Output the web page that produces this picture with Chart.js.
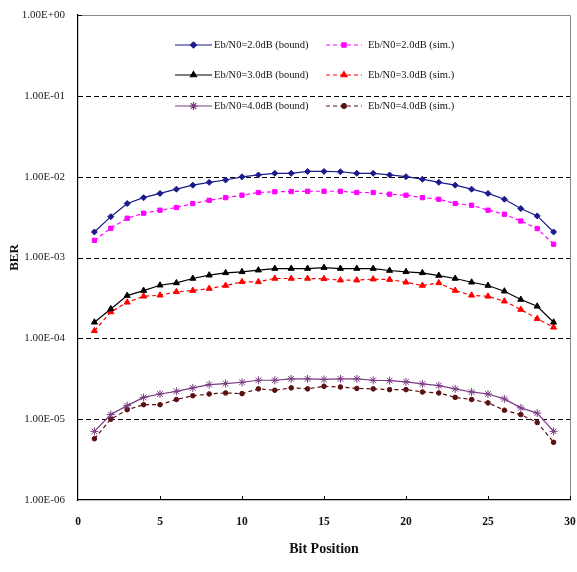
<!DOCTYPE html>
<html lang="en">
<head>
  <meta charset="UTF-8">
  <title>BER vs Bit Position</title>
  <script src="https://cdn.jsdelivr.net/npm/chart.js"></script>
  <style>
    body { margin: 0; background: #fff; }
    #wrap { width: 577px; height: 572px; }
  </style>
</head>
<body>
<div id="wrap"><canvas id="berChart" width="577" height="572"></canvas></div>
<script>
  // bit positions 1..29
  const bitPositions = [1,2,3,4,5,6,7,8,9,10,11,12,13,14,15,16,17,18,19,20,21,22,23,24,25,26,27,28,29];

  const bound20 = [2.07e-3,3.2e-3,4.65e-3,5.5e-3,6.2e-3,7.0e-3,7.85e-3,8.5e-3,9.1e-3,9.95e-3,1.05e-2,1.10e-2,1.10e-2,1.16e-2,1.16e-2,
                   1.15e-2,1.10e-2,1.10e-2,1.05e-2,1.0e-2,9.3e-3,8.5e-3,7.85e-3,7.0e-3,6.2e-3,5.26e-3,4.03e-3,3.27e-3,2.07e-3];
  const sim20   = [1.63e-3,2.3e-3,3.06e-3,3.53e-3,3.85e-3,4.15e-3,4.65e-3,5.1e-3,5.5e-3,5.9e-3,6.37e-3,6.5e-3,6.55e-3,6.6e-3,6.6e-3,
                   6.6e-3,6.37e-3,6.37e-3,6.07e-3,5.9e-3,5.5e-3,5.26e-3,4.65e-3,4.43e-3,3.85e-3,3.43e-3,2.83e-3,2.28e-3,1.46e-3];
  const bound30 = [1.58e-4,2.31e-4,3.38e-4,3.9e-4,4.54e-4,4.85e-4,5.5e-4,6.04e-4,6.46e-4,6.65e-4,6.97e-4,7.3e-4,7.3e-4,7.3e-4,7.5e-4,
                   7.3e-4,7.3e-4,7.3e-4,6.9e-4,6.65e-4,6.46e-4,5.98e-4,5.5e-4,4.94e-4,4.5e-4,3.83e-4,3.02e-4,2.49e-4,1.58e-4];
  const sim30   = [1.24e-4,2.12e-4,2.79e-4,3.31e-4,3.41e-4,3.76e-4,3.9e-4,4.13e-4,4.5e-4,5.0e-4,5.0e-4,5.5e-4,5.5e-4,5.5e-4,5.45e-4,
                   5.24e-4,5.24e-4,5.4e-4,5.33e-4,4.94e-4,4.5e-4,4.85e-4,3.9e-4,3.41e-4,3.31e-4,2.88e-4,2.27e-4,1.75e-4,1.37e-4];
  const bound40 = [7.06e-6,1.14e-5,1.47e-5,1.86e-5,2.05e-5,2.21e-5,2.44e-5,2.68e-5,2.76e-5,2.86e-5,3.03e-5,3.03e-5,3.15e-5,3.15e-5,3.1e-5,
                   3.15e-5,3.15e-5,3.03e-5,3.0e-5,2.9e-5,2.73e-5,2.6e-5,2.37e-5,2.17e-5,2.05e-5,1.78e-5,1.38e-5,1.19e-5,7.06e-6];
  const sim40   = [5.73e-6,1.0e-5,1.31e-5,1.51e-5,1.51e-5,1.75e-5,1.95e-5,2.05e-5,2.11e-5,2.07e-5,2.37e-5,2.28e-5,2.44e-5,2.37e-5,2.55e-5,
                   2.5e-5,2.4e-5,2.37e-5,2.32e-5,2.32e-5,2.17e-5,2.11e-5,1.86e-5,1.75e-5,1.59e-5,1.29e-5,1.14e-5,9.1e-6,5.17e-6];

  const seriesLabels = [
    'Eb/N0=2.0dB (bound)', 'Eb/N0=2.0dB (sim.)',
    'Eb/N0=3.0dB (bound)', 'Eb/N0=3.0dB (sim.)',
    'Eb/N0=4.0dB (bound)', 'Eb/N0=4.0dB (sim.)'
  ];

  const yTickValues = [1, 1e-1, 1e-2, 1e-3, 1e-4, 1e-5, 1e-6];
  const yTickLabels = ['1.00E+00', '1.00E-01', '1.00E-02', '1.00E-03', '1.00E-04', '1.00E-05', '1.00E-06'];
  const xTickValues = [0, 5, 10, 15, 20, 25, 30];

  const serif = '"Liberation Serif", "DejaVu Serif", serif';

  function toPoints(values) {
    return values.map((v, i) => ({ x: bitPositions[i], y: v }));
  }

  function series(label, values, color, style, radius, dashed) {
    return {
      label: label,
      data: toPoints(values),
      borderColor: color,
      backgroundColor: color,
      borderWidth: 1.2,
      borderDash: dashed ? [4, 3] : [],
      pointStyle: style,
      pointRadius: radius,
      pointBorderWidth: 1,
      tension: 0
    };
  }

  // legend drawn inside the plot, two columns
  const innerLegend = {
    id: 'innerLegend',
    afterDatasetsDraw(chart) {
      const ctx = chart.ctx;
      const rows = [45, 75, 106];
      const cols = [{ x0: 175, x1: 212, tx: 214 }, { x0: 326, x1: 362, tx: 368 }];
      chart.data.datasets.forEach((ds, i) => {
        const col = cols[i % 2];
        const y = rows[Math.floor(i / 2)];
        ctx.save();
        ctx.strokeStyle = ds.borderColor;
        ctx.lineWidth = ds.borderWidth;
        ctx.setLineDash(ds.borderDash);
        ctx.beginPath();
        ctx.moveTo(col.x0, y);
        ctx.lineTo(col.x1, y);
        ctx.stroke();
        ctx.setLineDash([]);
        ctx.fillStyle = ds.backgroundColor;
        Chart.helpers.drawPoint(ctx, {
          pointStyle: ds.pointStyle, radius: ds.pointRadius, borderWidth: 1, rotation: 0
        }, (col.x0 + col.x1) / 2, y);
        ctx.fillStyle = '#111';
        ctx.font = '10.5px ' + serif;
        ctx.textBaseline = 'middle';
        ctx.fillText(ds.label, col.tx, y);
        ctx.restore();
      });
    }
  };

  // frame, dashed decade lines and inward ticks
  const frame = {
    id: 'frame',
    beforeDatasetsDraw(chart) {
      const ctx = chart.ctx;
      const a = chart.chartArea;
      const ys = chart.scales.y;
      const xs = chart.scales.x;
      ctx.save();
      ctx.strokeStyle = '#000';
      ctx.lineWidth = 1;
      ctx.setLineDash([5, 3]);
      yTickValues.slice(1, -1).forEach(v => {
        const py = Math.round(ys.getPixelForValue(v)) + 0.5;
        ctx.beginPath();
        ctx.moveTo(a.left, py);
        ctx.lineTo(a.right, py);
        ctx.stroke();
      });
      ctx.setLineDash([]);
      ctx.strokeStyle = '#888';
      ctx.beginPath();
      ctx.moveTo(a.left, a.top + 0.5);
      ctx.lineTo(a.right + 0.5, a.top + 0.5);
      ctx.lineTo(a.right + 0.5, a.bottom);
      ctx.stroke();
      ctx.strokeStyle = '#000';
      xTickValues.slice(1).forEach(v => {
        const px = Math.round(xs.getPixelForValue(v)) + 0.5;
        ctx.beginPath();
        ctx.moveTo(px, a.bottom);
        ctx.lineTo(px, a.bottom - 4);
        ctx.stroke();
      });
      ctx.beginPath();
      ctx.moveTo(a.left, a.top + 0.5);
      ctx.lineTo(a.left + 4, a.top + 0.5);
      ctx.stroke();
      ctx.restore();
    }
  };

  new Chart(document.getElementById('berChart'), {
    type: 'line',
    data: {
      datasets: [
        series(seriesLabels[0], bound20, '#1a1a8c', 'rectRot', 3, false),
        series(seriesLabels[1], sim20, '#ff00ff', 'rect', 3, true),
        series(seriesLabels[2], bound30, '#000000', 'triangle', 3.5, false),
        series(seriesLabels[3], sim30, '#ff0000', 'triangle', 3.5, true),
        series(seriesLabels[4], bound40, '#7a3a82', 'star', 4, false),
        series(seriesLabels[5], sim40, '#5a1010', 'circle', 2.3, true)
      ]
    },
    options: {
      responsive: false,
      animation: false,
      layout: { padding: { top: 15, right: 7, left: 0, bottom: 0 } },
      plugins: { legend: { display: false }, tooltip: { enabled: false } },
      scales: {
        x: {
          type: 'linear',
          min: 0,
          max: 30,
          afterBuildTicks: s => { s.ticks = xTickValues.map(v => ({ value: v })); },
          afterFit: s => { s.height = 72; s.paddingLeft = 0; s.paddingRight = 0; },
          grid: { display: false, drawTicks: false },
          border: { color: '#000', width: 1.2 },
          ticks: { padding: 15, color: '#111', font: { family: serif, size: 11.5, weight: 'bold' } },
          title: {
            display: true, text: 'Bit Position', color: '#111',
            font: { family: serif, size: 14, weight: 'bold' },
            padding: { top: 0, bottom: 14 }
          }
        },
        y: {
          type: 'logarithmic',
          min: 1e-6,
          max: 1,
          afterBuildTicks: s => { s.ticks = yTickValues.map(v => ({ value: v })); },
          afterFit: s => { s.width = 78; s.paddingTop = 0; s.paddingBottom = 0; },
          grid: { display: false, drawTicks: false },
          border: { color: '#000', width: 1.2 },
          ticks: {
            padding: 13,
            color: '#222',
            font: { family: serif, size: 11 },
            callback: value => yTickLabels[yTickValues.findIndex(v => Math.abs(v - value) / v < 1e-6)]
          },
          title: {
            display: true, text: 'BER', color: '#111',
            font: { family: serif, size: 13, weight: 'bold' },
            padding: { top: 7, bottom: 0 }
          }
        }
      }
    },
    plugins: [frame, innerLegend]
  });
</script>
</body>
</html>
